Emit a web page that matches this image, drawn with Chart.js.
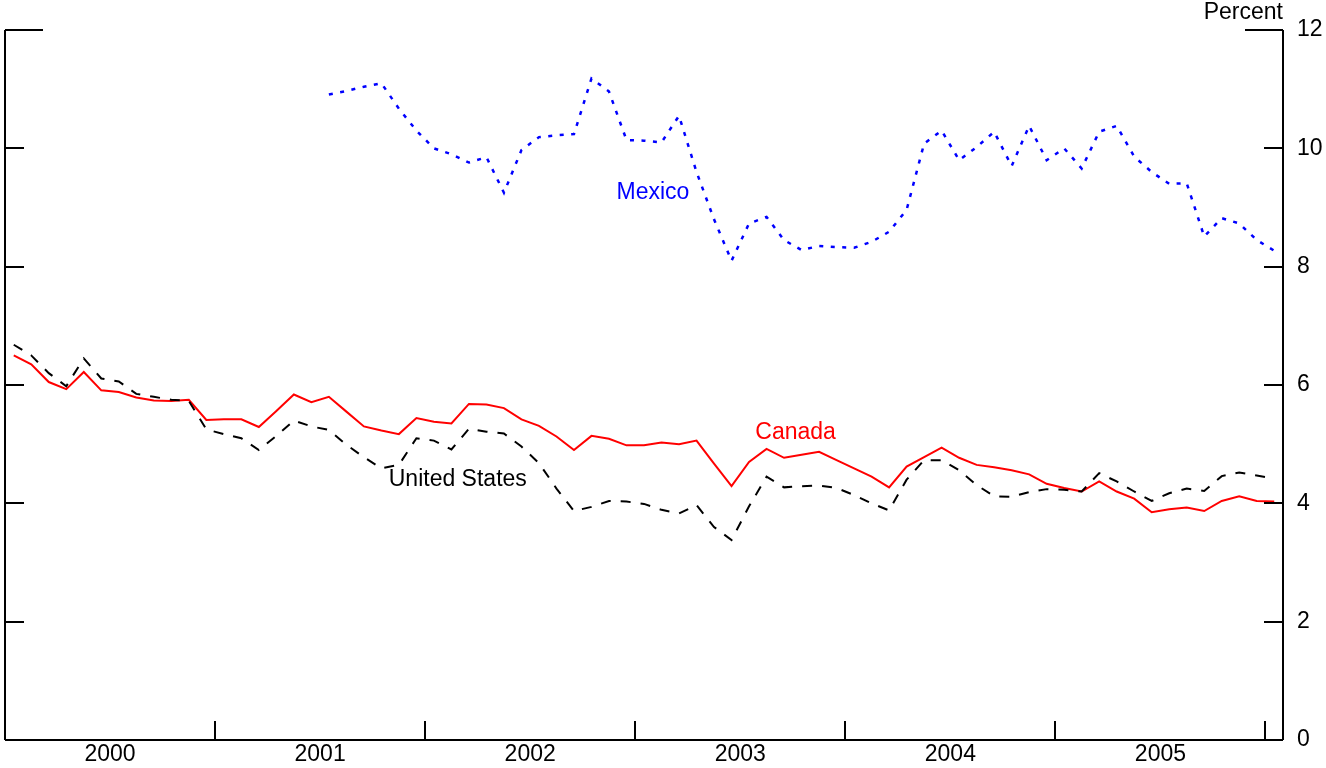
<!DOCTYPE html>
<html>
<head>
<meta charset="utf-8">
<title>Unemployment rates</title>
<script src="https://cdn.jsdelivr.net/npm/chart.js@4.4.1/dist/chart.umd.min.js"></script>
<style>
  html, body { margin: 0; padding: 0; background: #fff; }
  #chart { display: block; }
</style>
</head>
<body>
<canvas id="chart" width="1326" height="768"></canvas>
<script>
const years = ["2000", "2001", "2002", "2003", "2004", "2005", "2006"];
const monthNames = ["Jan", "Feb", "Mar", "Apr", "May", "Jun", "Jul", "Aug", "Sep", "Oct", "Nov", "Dec"];

// monthly, Jan 2000 .. Jan 2006
const months = [];
years.forEach((yr) => monthNames.forEach((m) => months.push(`${m} ${yr}`)));
months.length = 73;

const yearLabels = ["2000", "2001", "2002", "2003", "2004", "2005"];
const yTicks = [0, 2, 4, 6, 8, 10, 12];

const canada = [
  6.50, 6.35, 6.05, 5.93, 6.22, 5.91, 5.88, 5.79, 5.74, 5.73, 5.75, 5.41,
  5.42, 5.42, 5.29, 5.56, 5.84, 5.71, 5.80, 5.55, 5.30, 5.23, 5.17, 5.44,
  5.38, 5.35, 5.68, 5.67, 5.61, 5.42, 5.31, 5.13, 4.90, 5.14, 5.09, 4.98,
  4.98, 5.03, 5.00, 5.06, 4.67, 4.29, 4.70, 4.92, 4.77, 4.82, 4.87, 4.73,
  4.59, 4.45, 4.27, 4.62, 4.78, 4.94, 4.77, 4.65, 4.61, 4.56, 4.49, 4.33,
  4.26, 4.20, 4.37, 4.20, 4.08, 3.85, 3.90, 3.93, 3.87, 4.04, 4.12, 4.04,
  4.03
];

const unitedStates = [
  6.68, 6.50, 6.20, 5.98, 6.45, 6.11, 6.06, 5.85, 5.80, 5.75, 5.73, 5.25,
  5.17, 5.10, 4.90, 5.14, 5.40, 5.30, 5.24, 4.99, 4.78, 4.59, 4.65, 5.10,
  5.06, 4.91, 5.26, 5.21, 5.18, 4.96, 4.68, 4.25, 3.87, 3.94, 4.04, 4.03,
  3.99, 3.89, 3.83, 3.97, 3.60, 3.38, 3.95, 4.45, 4.27, 4.29, 4.30, 4.26,
  4.14, 4.00, 3.88, 4.40, 4.73, 4.73, 4.56, 4.31, 4.12, 4.11, 4.19, 4.24,
  4.23, 4.20, 4.51, 4.37, 4.20, 4.04, 4.17, 4.25, 4.21, 4.46, 4.52, 4.47,
  4.42
];

const mexico = [
  null, null, null, null, null, null, null, null, null, null, null, null,
  null, null, null, null, null, null, 10.91, 10.97, 11.04, 11.10, 10.67, 10.30,
  10.00, 9.90, 9.76, 9.85, 9.25, 9.97, 10.19, 10.22, 10.24, 11.18, 10.96, 10.14,
  10.13, 10.10, 10.55, 9.60, 8.80, 8.10, 8.73, 8.84, 8.45, 8.28, 8.35, 8.33,
  8.32, 8.42, 8.59, 8.96, 10.08, 10.30, 9.80, 10.02, 10.28, 9.70, 10.38, 9.80,
  10.00, 9.66, 10.28, 10.38, 9.86, 9.60, 9.40, 9.41, 8.51, 8.82, 8.73, 8.45,
  8.27
];

// series name labels, anchored in data units (month index, percent)
const seriesLabels = [
  { text: "Mexico", color: "#0000ff", at: 34.43, value: 9.14 },
  { text: "Canada", color: "#ff0000", at: 42.36, value: 5.09 },
  { text: "United States", color: "#000000", at: 21.42, value: 4.29 }
];

const FONT = "23px 'Liberation Sans', Arial, sans-serif";

const framePlugin = {
  id: "frame",
  afterDraw(chart) {
    const ctx = chart.ctx;
    const { left, right, top, bottom } = chart.chartArea;
    const xs = chart.scales.x;
    const ys = chart.scales.y;

    ctx.save();
    ctx.strokeStyle = "#000";
    ctx.lineWidth = 2;
    ctx.lineCap = "butt";

    // left, right, bottom axis lines
    ctx.beginPath();
    ctx.moveTo(left, top);
    ctx.lineTo(left, bottom);
    ctx.moveTo(right, top);
    ctx.lineTo(right, bottom);
    ctx.moveTo(left, bottom);
    ctx.lineTo(right, bottom);
    ctx.stroke();

    // y ticks, inward on both sides
    yTicks.forEach((v) => {
      const py = Math.round(ys.getPixelForValue(v));
      const len = v === 12 ? 38 : 19;
      ctx.beginPath();
      ctx.moveTo(left, py);
      ctx.lineTo(left + len, py);
      ctx.moveTo(right, py);
      ctx.lineTo(right - len, py);
      ctx.stroke();
    });

    // year boundary ticks
    for (let i = 11; i < months.length - 1; i += 12) {
      const px = Math.round((xs.getPixelForValue(i) + xs.getPixelForValue(i + 1)) / 2);
      ctx.beginPath();
      ctx.moveTo(px, bottom);
      ctx.lineTo(px, bottom - 19);
      ctx.stroke();
    }

    ctx.font = FONT;
    ctx.fillStyle = "#000";

    // year labels centred in each year
    ctx.textAlign = "center";
    ctx.textBaseline = "middle";
    yearLabels.forEach((label, k) => {
      const px = (xs.getPixelForValue(k * 12) + xs.getPixelForValue(k * 12 + 11)) / 2;
      ctx.fillText(label, px, bottom + 15);
    });

    // right axis labels
    ctx.textAlign = "left";
    yTicks.forEach((v) => {
      ctx.fillText(String(v), right + 14, ys.getPixelForValue(v));
    });

    ctx.textAlign = "right";
    ctx.textBaseline = "alphabetic";
    ctx.fillText("Percent", right, top - 11);

    // series names
    ctx.textAlign = "left";
    seriesLabels.forEach((s) => {
      ctx.fillStyle = s.color;
      ctx.fillText(s.text, xs.getPixelForValue(s.at), ys.getPixelForValue(s.value));
    });

    ctx.restore();
  }
};

new Chart(document.getElementById("chart"), {
  type: "line",
  data: {
    labels: months,
    datasets: [
      {
        label: "Mexico",
        data: mexico,
        borderColor: "#0000ff",
        borderWidth: 2.5,
        borderDash: [4, 7.5],
        pointRadius: 0,
        tension: 0,
        fill: false
      },
      {
        label: "United States",
        data: unitedStates,
        borderColor: "#000000",
        borderWidth: 2,
        borderDash: [10, 10],
        pointRadius: 0,
        tension: 0,
        fill: false
      },
      {
        label: "Canada",
        data: canada,
        borderColor: "#ff0000",
        borderWidth: 2,
        pointRadius: 0,
        tension: 0,
        fill: false
      }
    ]
  },
  options: {
    responsive: false,
    animation: false,
    events: [],
    layout: {
      padding: { left: 5, right: 43, top: 30, bottom: 28 }
    },
    plugins: {
      legend: { display: false },
      tooltip: { enabled: false },
      title: { display: false }
    },
    scales: {
      x: {
        type: "category",
        offset: true,
        display: false
      },
      y: {
        min: 0,
        max: 12,
        display: false
      }
    }
  },
  plugins: [framePlugin]
});
</script>
</body>
</html>
